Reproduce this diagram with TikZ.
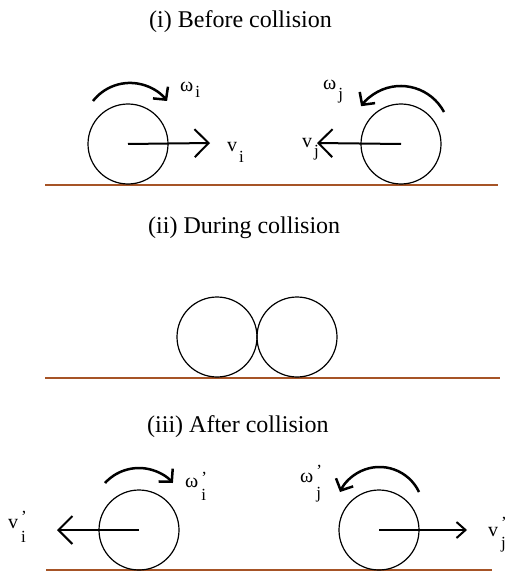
\documentclass[tikz,border=0pt]{standalone}
\usepackage{fontspec}
\setmainfont{Liberation Serif}
\usetikzlibrary{arrows.meta}
\definecolor{ground}{RGB}{166,84,38}
\newcommand{\subf}{\fontsize{17}{17}\selectfont}
\newcommand{\lbl}[3]{#1\hspace{2pt}\raisebox{-#3}{\subf #2}}
\newcommand{\lblp}[4]{#1\hspace{3pt}\raisebox{-#3}{\subf\rlap{\raisebox{#4}{’}}#2}}
\begin{document}
\begin{tikzpicture}[x=1pt,y=-1pt,
  ball/.style={circle,draw,line width=1.2pt,minimum size=80pt,inner sep=0pt},
  floor/.style={draw=ground,line width=2.5pt},
  vel/.style={line width=2pt,-{Straight Barb[length=14pt,width=28pt]}},
  velsmall/.style={line width=2pt,-{Straight Barb[length=9pt,width=16pt]}},
  spin/.style={line width=2.5pt,-{Straight Barb[length=9pt,width=19pt]}},
  title/.style={anchor=base west,inner sep=0pt,font=\fontsize{24}{24}\selectfont},
  sym/.style={anchor=base west,inner sep=0pt,font=\fontsize{20}{20}\selectfont}]
\useasboundingbox (0,0) rectangle (522,572);
% ---------- (i) Before collision ----------
\node[title] (t1) at (149,28) {(i) Before collision};
\coordinate (g1a) at (45,185);
\coordinate (g1b) at (498,185);
\draw[floor] (g1a) -- (g1b);
\node[ball] (b1) at (128,144) {};
\node[ball] (b2) at (401,144) {};
\coordinate (v1tip) at (210,143);
\coordinate (v2tip) at (317,143);
\draw[vel] (b1.center) -- (v1tip);
\draw[vel] (b2.center) -- (v2tip);
\node[sym] (lv1) at (227,152) {\lbl{v}{i}{10pt}};
\node[sym] (lv2) at (302,148) {\lbl{v}{j}{9pt}};
\coordinate (w1s) at (93,101);
\coordinate (w2s) at (444,112);
\draw[spin] (w1s) arc[start angle=142,end angle=38,radius=47pt];
\draw[spin] (w2s) arc[start angle=28,end angle=144,radius=49pt];
\node[sym] (lw1) at (180,92) {\lbl{ω}{i}{6pt}};
\node[sym] (lw2) at (323,90) {\lbl{ω}{j}{10pt}};
% ---------- (ii) During collision ----------
\node[title] (t2) at (148,233) {(ii) During collision};
\coordinate (g2a) at (45,378);
\coordinate (g2b) at (500,378);
\draw[floor] (g2a) -- (g2b);
\node[ball] (b5) at (217,337) {};
\node[ball] (b6) at (297,337) {};
% ---------- (iii) After collision ----------
\node[title] (t3) at (147,432) {(iii) After collision};
\coordinate (g3a) at (46,570);
\coordinate (g3b) at (492,570);
\draw[floor] (g3a) -- (g3b);
\node[ball] (b3) at (139,530) {};
\node[ball] (b4) at (379,530) {};
\coordinate (v3tip) at (57,530);
\coordinate (v4tip) at (467,530);
\draw[vel] (b3.center) -- (v3tip);
\draw[velsmall] (b4.center) -- (v4tip);
\node[sym] (lv3) at (8,528) {\lblp{v}{i}{14pt}{20pt}};
\node[sym] (lv4) at (488,536) {\lblp{v}{j}{12pt}{20pt}};
\coordinate (w3s) at (105,483);
\coordinate (w4s) at (419,492);
\draw[spin] (w3s) arc[start angle=137.6,end angle=42.4,radius=46pt];
\draw[spin] (w4s) arc[start angle=25.3,end angle=154.7,radius=43.7pt];
\node[sym] (lw3) at (185,487) {\lblp{ω}{i}{13pt}{17pt}};
\node[sym] (lw4) at (300,482) {\lblp{ω}{j}{16pt}{22pt}};
\end{tikzpicture}
\end{document}
